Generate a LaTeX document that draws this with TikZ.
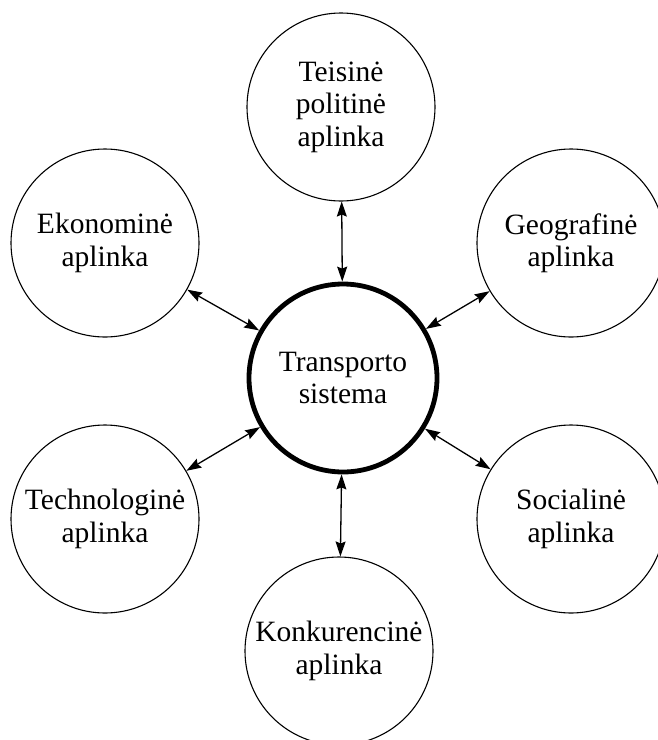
\documentclass[tikz,border=0pt]{standalone}
\usepackage{fontspec}
\setmainfont{Liberation Serif}
\usetikzlibrary{arrows.meta}
\begin{document}
\begin{tikzpicture}[x=1pt,y=-1pt,
  env/.style={circle,draw,line width=1.1pt,minimum size=188pt,inner sep=0pt,align=center,
    font=\fontsize{29.5}{32.5}\selectfont},
  core/.style={env,line width=4.8pt,minimum size=188pt},
  tip/.tip={Stealth[length=15pt,width=10pt,inset=2pt]},
  link/.style={tip-tip,line width=1.3pt}]
\useasboundingbox (0,0) rectangle (657,740);
\node[core] (c) at (343,378) {Transporto\\sistema};
\node[env] (t) at (341,107) {Teisinė\\politinė\\aplinka};
\node[env] (e) at (105,243) {Ekonominė\\aplinka};
\node[env] (g) at (571,243) {Geografinė\\aplinka};
\node[env] (h) at (105,519) {Technologinė\\aplinka};
\node[env] (s) at (571,519) {Socialinė\\aplinka};
\node[env] (k) at (339,651) {Konkurencinė\\aplinka};
\draw[link] (t) -- (c);
\draw[link] (e) -- (c);
\draw[link] (g) -- (c);
\draw[link] (h) -- (c);
\draw[link] (s) -- (c);
\draw[link] (k) -- (c);
\end{tikzpicture}
\end{document}
